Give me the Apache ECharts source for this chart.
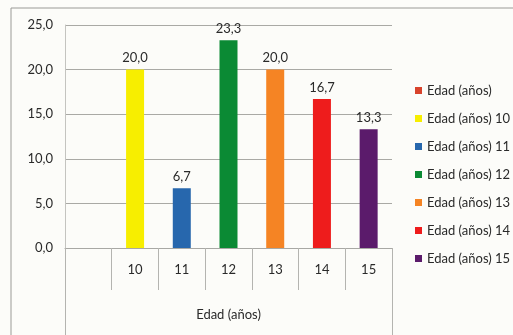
<!DOCTYPE html>
<html>
<head>
<meta charset="utf-8">
<script src="https://cdn.jsdelivr.net/npm/echarts@6/dist/echarts.min.js"></script>
<style>
  html, body { margin: 0; padding: 0; background: #fcfcf9; }
  #chart { width: 513px; height: 335px; }
</style>
</head>
<body>
<div id="chart"></div>
<script>
// Age categories (first slot is the empty group column)
const categories = ['', '10', '11', '12', '13', '14', '15'];
const groupLabel = ['Edad (años)'];
const seriesNames = ['Edad (años)', 'Edad (años) 10', 'Edad (años) 11', 'Edad (años) 12',
                     'Edad (años) 13', 'Edad (años) 14', 'Edad (años) 15'];
// Percentage for each age
const values = [null, 20.0, 6.7, 23.3, 20.0, 16.7, 13.3];
const colors = ['#d8432c', '#f7ee00', '#2767ad', '#0b8a34', '#f58424', '#ee1c1c', '#5b1b6b'];
const yTicks = [0, 5, 10, 15, 20, 25];

const fmt = v => v.toFixed(1).replace('.', ',');
const font = 'Lato, "Open Sans", sans-serif';
const txt = '#2a2a2a';

const series = seriesNames.map((name, i) => ({
  name,
  type: 'bar',
  stack: 'edad',
  barWidth: 18,
  itemStyle: { color: colors[i] },
  data: categories.map((c, j) => (j === i ? values[j] : null)),
  label: {
    show: true,
    position: 'top',
    distance: 5,
    color: txt,
    fontFamily: font,
    fontSize: 13,
    formatter: p => (p.value == null ? '' : fmt(p.value))
  }
}));

const chart = echarts.init(document.getElementById('chart'));
chart.setOption({
  backgroundColor: '#fcfcf9',
  animation: false,
  grid: { left: 65, right: 121, top: 25, bottom: 87 },
  graphic: [{
    type: 'rect',
    shape: { x: 11, y: 8, width: 700, height: 500 },
    style: { fill: 'none', stroke: '#9a9a96', lineWidth: 1 },
    silent: true
  }],
  legend: {
    orient: 'vertical',
    left: 410,
    top: 79,
    itemWidth: 7,
    itemHeight: 7,
    itemGap: 15,
    icon: 'rect',
    textStyle: { color: txt, fontFamily: font, fontSize: 13 },
    data: seriesNames
  },
  xAxis: [{
    type: 'category',
    data: categories,
    boundaryGap: true,
    axisLine: { lineStyle: { color: '#a8a8a4' } },
    axisTick: { show: true, interval: 0, length: 42, lineStyle: { color: '#b4b4b0' } },
    axisLabel: { interval: 0, margin: 15, color: txt, fontFamily: font, fontSize: 13 }
  }, {
    type: 'category',
    position: 'bottom',
    offset: 42,
    data: groupLabel,
    boundaryGap: true,
    axisLine: { show: false },
    axisTick: { show: true, length: 60, lineStyle: { color: '#b4b4b0' } },
    axisLabel: { margin: 18, color: txt, fontFamily: font, fontSize: 13 }
  }],
  yAxis: {
    type: 'value',
    min: yTicks[0],
    max: yTicks[yTicks.length - 1],
    interval: 5,
    axisLine: { show: true, lineStyle: { color: '#c4c4c0' } },
    axisTick: { show: false },
    splitLine: { lineStyle: { color: '#a9a9a5' } },
    axisLabel: { margin: 12, color: txt, fontFamily: font, fontSize: 13, formatter: v => fmt(v) }
  },
  series
});
</script>
</body>
</html>
